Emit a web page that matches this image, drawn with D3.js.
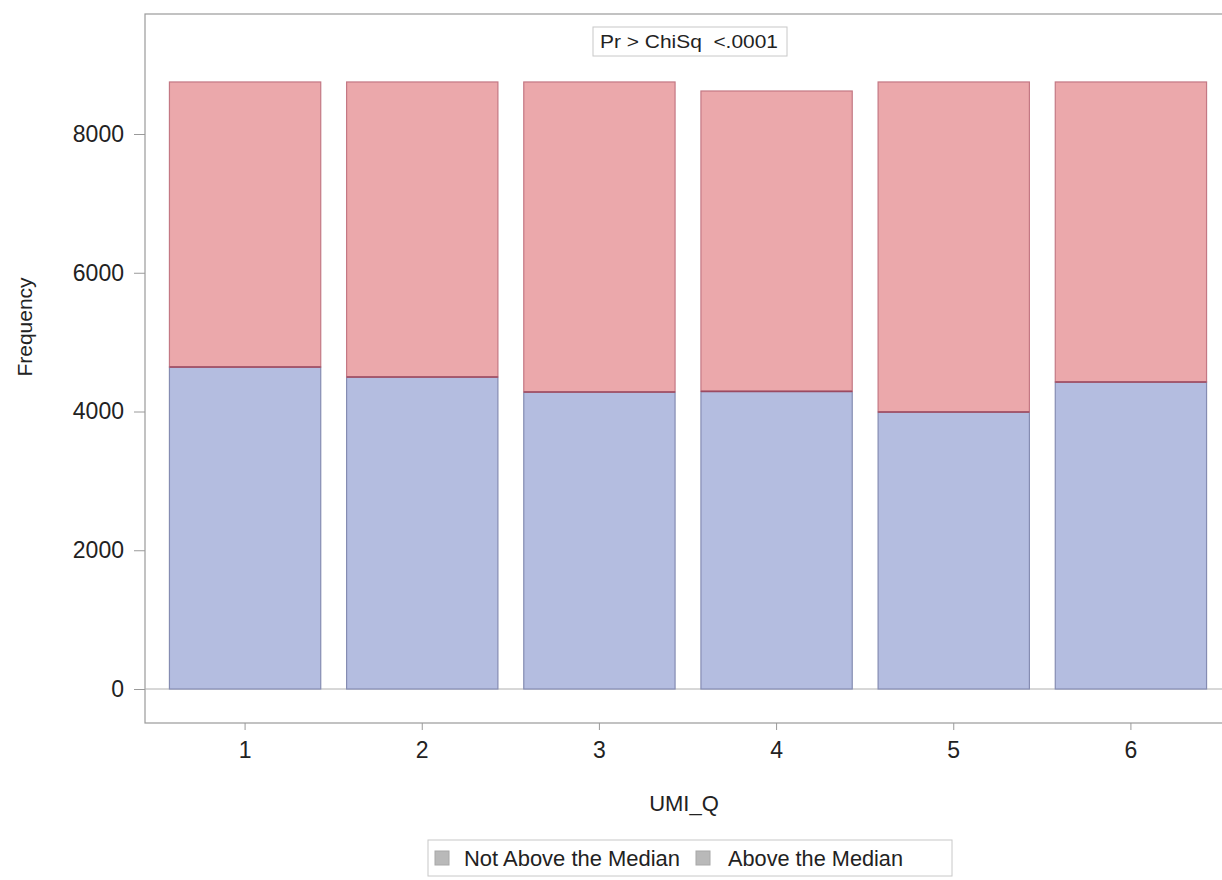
<!DOCTYPE html>
<html><head><meta charset="utf-8">
<script src="https://cdn.jsdelivr.net/npm/d3@7"></script>
<style>body{margin:0;background:#fff;}svg{display:block;font-family:"Liberation Sans",Arial,sans-serif;}</style>
</head><body><svg id="c" width="1222" height="880"></svg>
<script>
const categories = ["1","2","3","4","5","6"];
const notAbove = [4641, 4497, 4281, 4290, 3993, 4425];
const above = [4109, 4253, 4469, 4330, 4757, 4325];
const seriesNames = ["Not Above the Median","Above the Median"];
const yTicks = [0, 2000, 4000, 6000, 8000];

const svg = d3.select("#c");
const frame = {left:145, top:14, right:1232, bottom:723};
const x = d3.scaleBand().domain(categories).range([156.5, 1219.5]).paddingInner(0.146).paddingOuter(0.073);
const y = d3.scaleLinear().domain([0, 8000]).range([689, 134]);

const colors = ["#b4bde0", "#eba8ab"];
const strokes = ["#858cb2", "#c47884"];

// frame
svg.append("rect").attr("x", frame.left).attr("y", frame.top)
  .attr("width", frame.right-frame.left).attr("height", frame.bottom-frame.top)
  .attr("fill","#fff").attr("stroke","#9a9a9a").attr("stroke-width",1.2);

// zero reference line
svg.append("line").attr("x1", frame.left).attr("x2", 1222).attr("y1", y(0)).attr("y2", y(0))
  .attr("stroke","#b0b0b0").attr("stroke-width",1);

const stackData = categories.map((c,i)=>({cat:c, notAbove:notAbove[i], above:above[i]}));
const stack = d3.stack().keys(["notAbove","above"])(stackData);

stack.forEach((layer, li) => {
  svg.append("g").selectAll("rect").data(layer).join("rect")
    .attr("x", d => x(d.data.cat))
    .attr("width", x.bandwidth())
    .attr("y", d => y(d[1]))
    .attr("height", d => y(d[0]) - y(d[1]))
    .attr("fill", colors[li])
    .attr("stroke", strokes[li]).attr("stroke-width", 1.2);
});
// boundary line between segments
svg.append("g").selectAll("line").data(stack[0]).join("line")
  .attr("x1", d => x(d.data.cat)).attr("x2", d => x(d.data.cat)+x.bandwidth())
  .attr("y1", d => y(d[1])).attr("y2", d => y(d[1]))
  .attr("stroke","#9a4a62").attr("stroke-width",1.6);

// Y axis
const yAxis = d3.axisLeft(y).tickValues(yTicks).tickSize(11).tickPadding(10).tickFormat(d3.format("d"));
const ya = svg.append("g").attr("transform", `translate(${frame.left},0)`).call(yAxis);
ya.select(".domain").remove();
ya.selectAll("line").attr("stroke","#9a9a9a");
ya.selectAll("text").attr("font-size", 23).attr("fill","#222");

// X axis
const xAxis = d3.axisBottom(x).tickSize(7).tickPadding(12);
const xa = svg.append("g").attr("transform", `translate(0,${frame.bottom})`).call(xAxis);
xa.select(".domain").remove();
xa.selectAll("line").attr("stroke","#9a9a9a");
xa.selectAll("text").attr("font-size", 23).attr("fill","#222");

// axis labels
svg.append("text").attr("transform","translate(32,327) rotate(-90)").attr("text-anchor","middle")
  .attr("font-size",21).attr("fill","#222").text("Frequency");
svg.append("text").attr("x", 684).attr("y", 811).attr("text-anchor","middle")
  .attr("font-size",22).attr("fill","#222").text("UMI_Q");

// inset
svg.append("rect").attr("x",593).attr("y",27).attr("width",194).attr("height",29)
  .attr("fill","#fff").attr("stroke","#c8c8c8");
svg.append("text").attr("x",600).attr("y",48).attr("textLength",178).attr("lengthAdjust","spacingAndGlyphs")
  .attr("font-size",18).attr("fill","#222").attr("xml:space","preserve")
  .style("white-space","pre").text("Pr > ChiSq  <.0001");

// legend
svg.append("rect").attr("x",428).attr("y",840).attr("width",524).attr("height",36)
  .attr("fill","#fff").attr("stroke","#c8c8c8");
const legItems = [{x:435, tx:464, w:216}, {x:696, tx:728, w:175}];
legItems.forEach((it,i)=>{
  svg.append("rect").attr("x",it.x).attr("y",851).attr("width",14).attr("height",14)
    .attr("fill", "#b9b9b9").attr("stroke","#a8a8a8");
  svg.append("text").attr("x",it.tx).attr("y",866).attr("font-size",22).attr("fill","#222")
    .attr("textLength", it.w).attr("lengthAdjust","spacingAndGlyphs").text(seriesNames[i]);
});
</script></body></html>
